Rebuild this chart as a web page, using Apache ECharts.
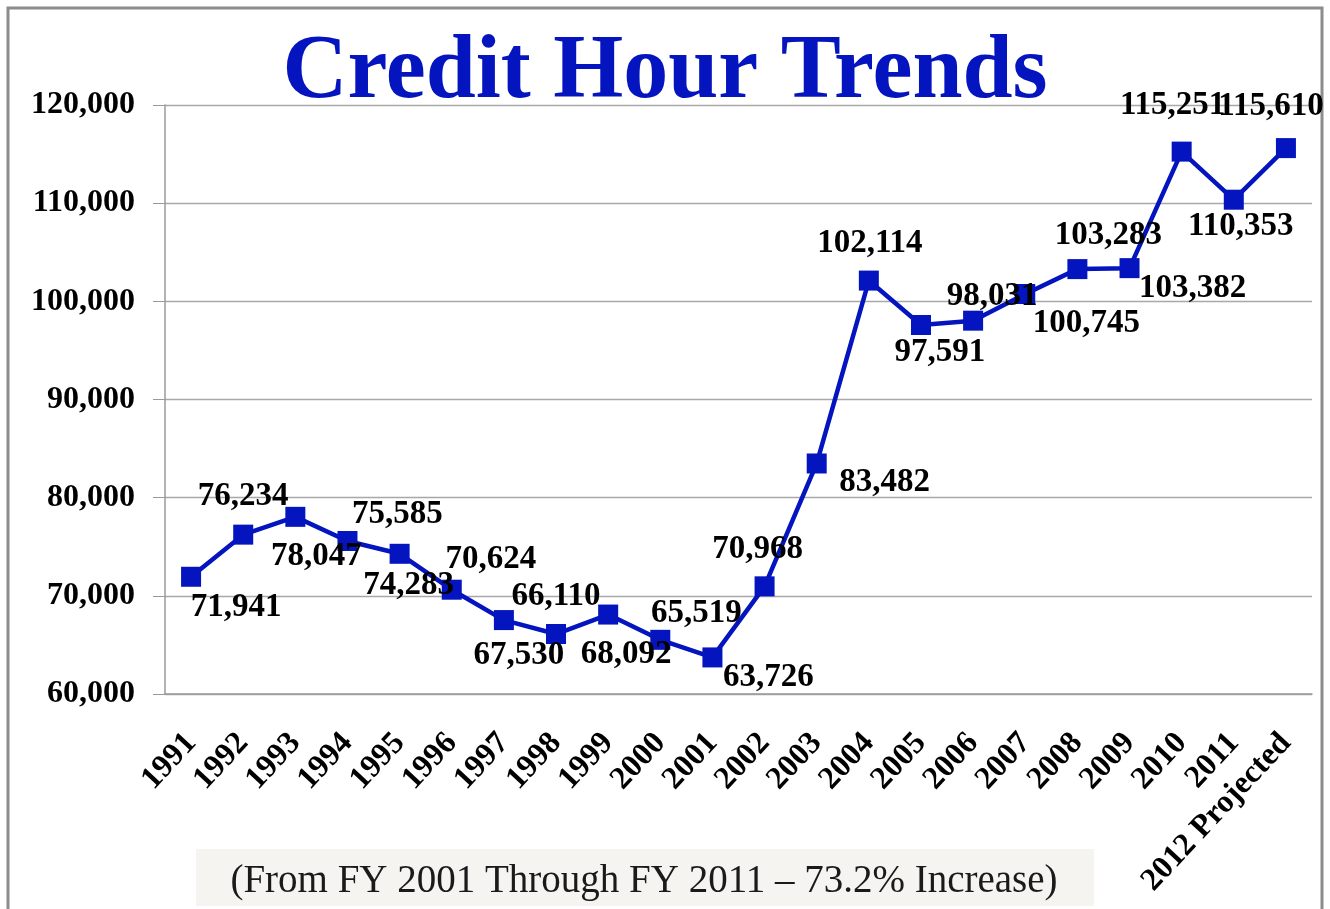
<!DOCTYPE html>
<html>
<head>
<meta charset="utf-8">
<title>Credit Hour Trends</title>
<script src="https://cdn.jsdelivr.net/npm/echarts@6/dist/echarts.min.js"></script>
<style>
  html, body { margin: 0; padding: 0; background: #fff; }
  #main { width: 1330px; height: 909px; }
</style>
</head>
<body>
<div id="main"></div>
<script>
// data
var years = ['1991', '1992', '1993', '1994', '1995', '1996', '1997', '1998', '1999', '2000',
    '2001', '2002', '2003', '2004', '2005', '2006', '2007', '2008', '2009', '2010', '2011',
    '2012 Projected'];
var creditHours = [71941, 76234, 78047, 75585, 74283, 70624, 67530, 66110, 68092, 65519,
    63726, 70968, 83482, 102114, 97591, 98031, 100745, 103283, 103382, 115251, 110353, 115610];
var yTicks = [60000, 70000, 80000, 90000, 100000, 110000, 120000];
var titleText = 'Credit Hour Trends';
var noteText = '(From FY 2001 Through FY 2011 \u2013 73.2% Increase)';

// where each value label sits, relative to its marker (layout only)
var labelOffsets = [
    [45, 31], [0, -38], [21, 40], [50, -27], [9, 32], [39, -30], [15, 35], [0, -38],
    [18, 40], [36, -26], [56, 20], [-7, -37], [68, 19], [1, -37], [19, 27], [19, -24],
    [61, 29], [31, -34], [63, 20], [-9, -46], [7, 27], [-15, -42]
];

var blue = '#0414bf';
var serif = '"Liberation Serif", "Times New Roman", serif';

var chart = echarts.init(document.getElementById('main'));

var points = creditHours.map(function (v, i) {
    return {
        value: v,
        label: { offset: labelOffsets[i] }
    };
});

var option = {
    backgroundColor: '#fff',
    animation: false,
    title: {
        text: titleText,
        left: 'center',
        top: 24,
        textStyle: { fontFamily: serif, fontSize: 90, fontWeight: 'bold', color: blue }
    },
    grid: { left: 165, right: 18, top: 105, bottom: 215, containLabel: false },
    xAxis: {
        type: 'category',
        data: years,
        axisLine: { lineStyle: { color: '#9a9a9a', width: 1.5 } },
        axisTick: { length: 7, lineStyle: { color: '#9a9a9a' } },
        axisLabel: {
            rotate: 47,
            margin: 44,
            interval: 0,
            fontFamily: serif,
            fontSize: 32,
            fontWeight: 'bold',
            color: '#000'
        }
    },
    yAxis: {
        type: 'value',
        min: yTicks[0],
        max: yTicks[yTicks.length - 1],
        interval: yTicks[1] - yTicks[0],
        axisLine: { show: true, lineStyle: { color: '#9a9a9a', width: 1.5 } },
        axisTick: { show: true, length: 12, lineStyle: { color: '#9a9a9a' } },
        splitLine: { lineStyle: { color: '#a8a8a8', width: 1.3 } },
        axisLabel: {
            margin: 30,
            fontFamily: serif,
            fontSize: 32,
            fontWeight: 'bold',
            color: '#000',
            formatter: function (v) { return v.toLocaleString('en-US'); }
        }
    },
    series: [{
        type: 'line',
        data: points,
        symbol: 'rect',
        symbolSize: 20,
        lineStyle: { color: blue, width: 4.5 },
        itemStyle: { color: blue },
        label: {
            show: true,
            position: 'inside',
            fontFamily: serif,
            fontSize: 33,
            fontWeight: 'bold',
            color: '#000',
            formatter: function (p) { return p.value.toLocaleString('en-US'); }
        },
        z: 3
    }],
    graphic: [
        {
            type: 'rect',
            shape: { x: 8, y: 8, width: 1314, height: 1000 },
            style: { fill: 'none', stroke: '#8c8c8c', lineWidth: 3 },
            silent: true
        },
        {
            type: 'rect',
            shape: { x: 196, y: 849, width: 898, height: 57 },
            style: { fill: '#f5f4f0' },
            silent: true
        },
        {
            type: 'text',
            x: 644,
            y: 882,
            style: {
                text: noteText,
                align: 'center',
                verticalAlign: 'middle',
                fontFamily: serif,
                fontSize: 39,
                fill: '#1a1a1a'
            },
            silent: true
        }
    ]
};

chart.setOption(option);
</script>
</body>
</html>
